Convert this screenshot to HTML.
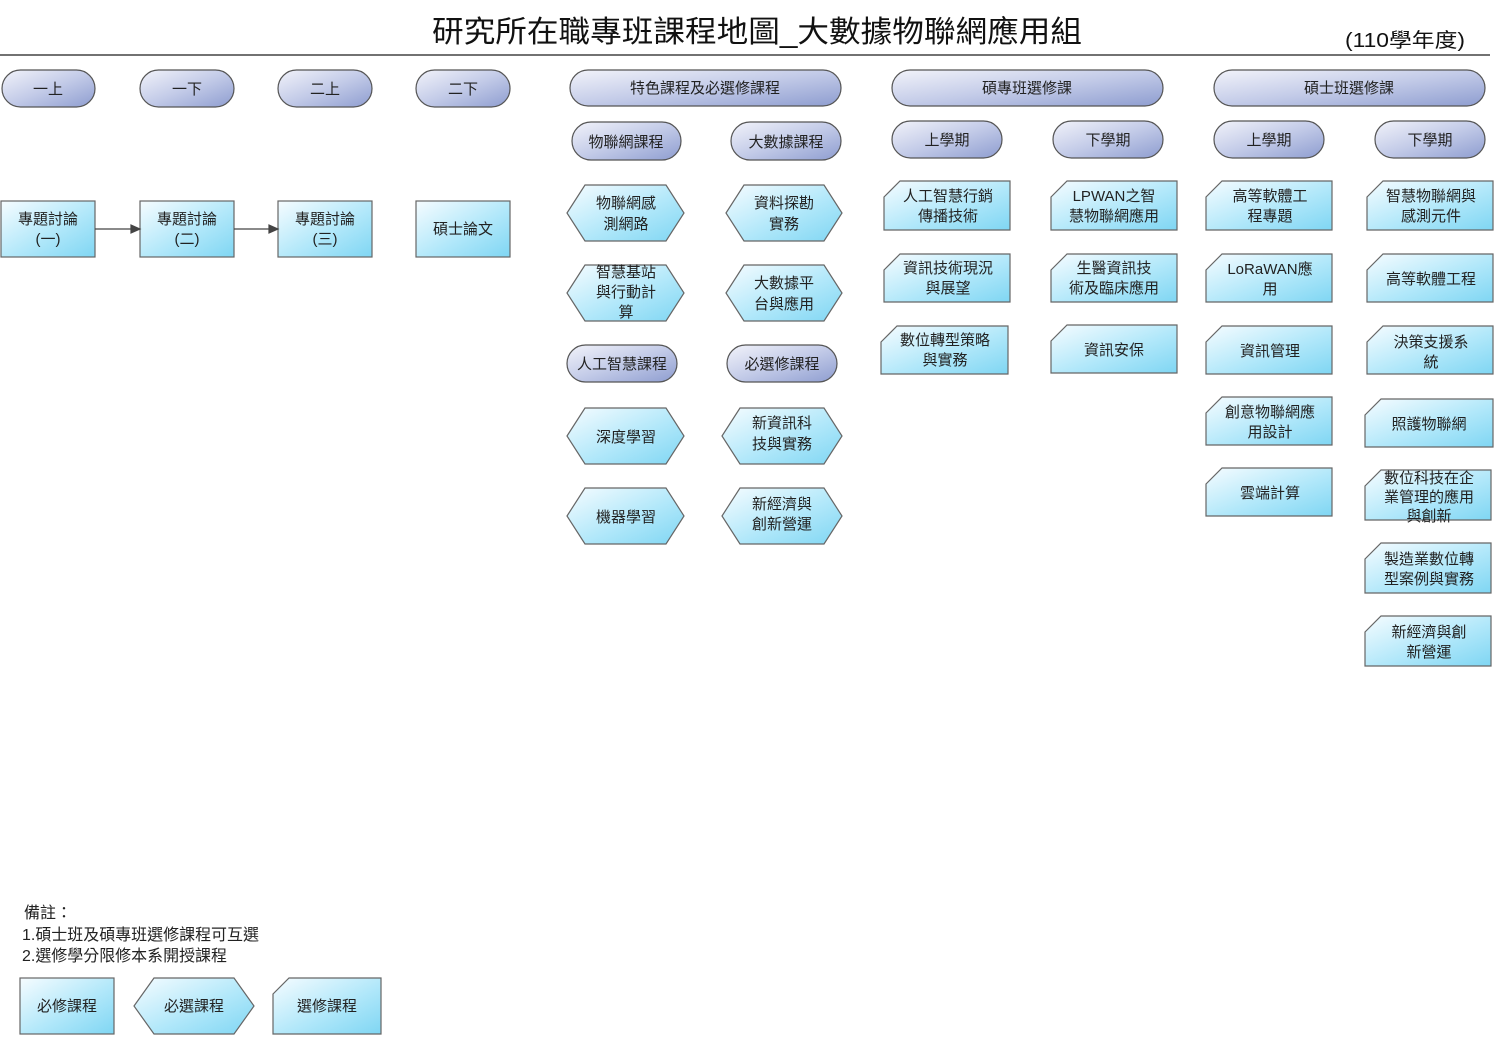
<!DOCTYPE html>
<html><head><meta charset="utf-8"><style>
html,body{margin:0;padding:0;background:#fff;}
svg{display:block;font-family:"Liberation Sans","Noto Sans CJK TC",sans-serif;}
</style></head><body>
<svg width="1497" height="1037" viewBox="0 0 1497 1037" xmlns="http://www.w3.org/2000/svg">
<defs>
<linearGradient id="b" x1="0" y1="0" x2="1" y2="1"><stop offset="0" stop-color="#f6fcff"/><stop offset="0.55" stop-color="#b2e8fa"/><stop offset="1" stop-color="#7fd6f3"/></linearGradient>
<linearGradient id="p" x1="0" y1="0" x2="1" y2="1"><stop offset="0" stop-color="#f2f3fa"/><stop offset="0.5" stop-color="#c3cbe8"/><stop offset="1" stop-color="#8e9dd0"/></linearGradient>
</defs>
<text x="432" y="42" font-size="30" fill="#111" textLength="650" lengthAdjust="spacingAndGlyphs">研究所在職專班課程地圖_大數據物聯網應用組</text>
<text x="1345" y="47" font-size="20" fill="#111" textLength="120" lengthAdjust="spacingAndGlyphs">(110學年度)</text>
<line x1="0" y1="55" x2="1490" y2="55" stroke="#444" stroke-width="1.5"/>

<g stroke="#555" stroke-width="1.2" fill="url(#p)">
<rect x="2" y="70" width="93" height="37" rx="18.5"/>
<rect x="140" y="70" width="94" height="37" rx="18.5"/>
<rect x="278" y="70" width="94" height="37" rx="18.5"/>
<rect x="416" y="70" width="94" height="37" rx="18.5"/>
<rect x="570" y="70" width="271" height="36" rx="18"/>
<rect x="892" y="70" width="271" height="36" rx="18"/>
<rect x="1214" y="70" width="271" height="36" rx="18"/>
<rect x="572" y="122" width="109" height="38" rx="19"/>
<rect x="731" y="122" width="110" height="38" rx="19"/>
<rect x="892" y="121" width="110" height="37" rx="18.5"/>
<rect x="1053" y="121" width="110" height="37" rx="18.5"/>
<rect x="1214" y="121" width="110" height="37" rx="18.5"/>
<rect x="1375" y="121" width="110" height="37" rx="18.5"/>
<rect x="567" y="345" width="110" height="37" rx="18.5"/>
<rect x="727" y="345" width="110" height="37" rx="18.5"/>
</g>
<g font-size="15" fill="#222" text-anchor="middle">
<text x="48" y="94">一上</text><text x="187" y="94">一下</text><text x="325" y="94">二上</text><text x="463" y="94">二下</text>
<text x="705" y="93">特色課程及必選修課程</text><text x="1027" y="93">碩專班選修課</text><text x="1349" y="93">碩士班選修課</text>
<text x="626" y="147">物聯網課程</text><text x="786" y="147">大數據課程</text>
<text x="947" y="145">上學期</text><text x="1108" y="145">下學期</text><text x="1269" y="145">上學期</text><text x="1430" y="145">下學期</text>
<text x="622" y="369">人工智慧課程</text><text x="782" y="369">必選修課程</text>
</g>

<g stroke="#666" stroke-width="1.2" fill="url(#b)">
<rect x="1" y="201" width="94" height="56"/>
<rect x="140" y="201" width="94" height="56"/>
<rect x="278" y="201" width="94" height="56"/>
<rect x="416" y="201" width="94" height="56"/>
<rect x="20" y="978" width="94" height="56"/>
</g>
<g stroke="#444" stroke-width="1.2" fill="#444">
<line x1="95" y1="229" x2="132" y2="229"/><polygon points="140,229 131,225 131,233"/>
<line x1="234" y1="229" x2="270" y2="229"/><polygon points="278,229 269,225 269,233"/>
</g>

<g stroke="#666" stroke-width="1.2" fill="url(#b)">
<polygon points="567,213 585,185 666,185 684,213 666,241 585,241"/>
<polygon points="726,213 744,185 824,185 842,213 824,241 744,241"/>
<polygon points="567,293 585,265 666,265 684,293 666,321 585,321"/>
<polygon points="726,293 744,265 824,265 842,293 824,321 744,321"/>
<polygon points="567,436 585,408 666,408 684,436 666,464 585,464"/>
<polygon points="722,436 740,408 824,408 842,436 824,464 740,464"/>
<polygon points="567,516 585,488 666,488 684,516 666,544 585,544"/>
<polygon points="722,516 740,488 824,488 842,516 824,544 740,544"/>
<polygon points="134,1006 154,978 234,978 254,1006 234,1034 154,1034"/>
</g>

<g stroke="#666" stroke-width="1.2" fill="url(#b)">
<polygon points="884,197 900,181 1010,181 1010,230 884,230"/>
<polygon points="884,270 900,254 1010,254 1010,302 884,302"/>
<polygon points="881,342 897,326 1008,326 1008,374 881,374"/>
<polygon points="1051,197 1067,181 1177,181 1177,230 1051,230"/>
<polygon points="1051,270 1067,254 1177,254 1177,302 1051,302"/>
<polygon points="1051,341 1067,325 1177,325 1177,373 1051,373"/>
<polygon points="1206,197 1222,181 1332,181 1332,230 1206,230"/>
<polygon points="1206,270 1222,254 1332,254 1332,302 1206,302"/>
<polygon points="1206,342 1222,326 1332,326 1332,374 1206,374"/>
<polygon points="1206,413 1222,397 1332,397 1332,445 1206,445"/>
<polygon points="1206,484 1222,468 1332,468 1332,516 1206,516"/>
<polygon points="1367,197 1383,181 1493,181 1493,230 1367,230"/>
<polygon points="1367,270 1383,254 1493,254 1493,302 1367,302"/>
<polygon points="1367,342 1383,326 1493,326 1493,374 1367,374"/>
<polygon points="1365,415 1381,399 1493,399 1493,447 1365,447"/>
<polygon points="1365,486 1381,470 1491,470 1491,520 1365,520"/>
<polygon points="1365,559 1381,543 1491,543 1491,593 1365,593"/>
<polygon points="1365,632 1381,616 1491,616 1491,666 1365,666"/>
<polygon points="273,994 289,978 381,978 381,1034 273,1034"/>
</g>

<g font-size="15" fill="#222" text-anchor="middle">
<text x="48" y="224">專題討論</text><text x="48" y="244">(一)</text>
<text x="187" y="224">專題討論</text><text x="187" y="244">(二)</text>
<text x="325" y="224">專題討論</text><text x="325" y="244">(三)</text>
<text x="463" y="234">碩士論文</text>

<text x="626" y="208">物聯網感</text><text x="626" y="229">測網路</text>
<text x="784" y="208">資料探勘</text><text x="784" y="229">實務</text>
<text x="626" y="277">智慧基站</text><text x="626" y="297">與行動計</text><text x="626" y="317">算</text>
<text x="784" y="288">大數據平</text><text x="784" y="309">台與應用</text>
<text x="626" y="442">深度學習</text>
<text x="782" y="428">新資訊科</text><text x="782" y="449">技與實務</text>
<text x="626" y="522">機器學習</text>
<text x="782" y="509">新經濟與</text><text x="782" y="529">創新營運</text>

<text x="948" y="201">人工智慧行銷</text><text x="948" y="221">傳播技術</text>
<text x="948" y="273">資訊技術現況</text><text x="948" y="293">與展望</text>
<text x="945" y="345">數位轉型策略</text><text x="945" y="365">與實務</text>
<text x="1114" y="201">LPWAN之智</text><text x="1114" y="221">慧物聯網應用</text>
<text x="1114" y="273">生醫資訊技</text><text x="1114" y="293">術及臨床應用</text>
<text x="1114" y="355">資訊安保</text>
<text x="1270" y="201">高等軟體工</text><text x="1270" y="221">程專題</text>
<text x="1270" y="274">LoRaWAN應</text><text x="1270" y="294">用</text>
<text x="1270" y="356">資訊管理</text>
<text x="1270" y="417">創意物聯網應</text><text x="1270" y="437">用設計</text>
<text x="1270" y="498">雲端計算</text>
<text x="1431" y="201">智慧物聯網與</text><text x="1431" y="221">感測元件</text>
<text x="1431" y="284">高等軟體工程</text>
<text x="1431" y="347">決策支援系</text><text x="1431" y="367">統</text>
<text x="1429" y="429">照護物聯網</text>
<text x="1429" y="483">數位科技在企</text><text x="1429" y="502">業管理的應用</text><text x="1429" y="521">與創新</text>
<text x="1429" y="564">製造業數位轉</text><text x="1429" y="584">型案例與實務</text>
<text x="1429" y="637">新經濟與創</text><text x="1429" y="657">新營運</text>

<text x="67" y="1011">必修課程</text>
<text x="194" y="1011">必選課程</text>
<text x="327" y="1011">選修課程</text>
</g>
<g font-size="16" fill="#222">
<text x="24" y="918">備註：</text>
<text x="22" y="940" textLength="237" lengthAdjust="spacingAndGlyphs">1.碩士班及碩專班選修課程可互選</text>
<text x="22" y="961" textLength="205" lengthAdjust="spacingAndGlyphs">2.選修學分限修本系開授課程</text>
</g>
</svg>
</body></html>
